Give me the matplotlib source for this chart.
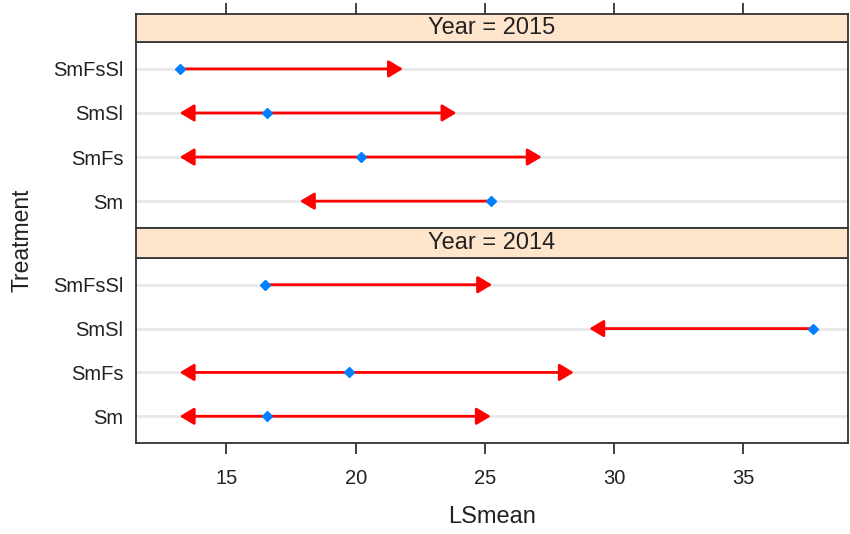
import matplotlib
matplotlib.use("Agg")
import matplotlib.pyplot as plt

plt.rcParams['font.family'] = ['Liberation Sans', 'DejaVu Sans']

treatments = ["Sm", "SmFs", "SmSl", "SmFsSl"]
years = ["2015", "2014"]

# LSmeans and comparison-arrow ends (None = no arrow on that side)
means = {
    "2015": [25.23, 20.20, 16.56, 13.19],
    "2014": [16.56, 19.73, 37.68, 16.51],
}
lower = {
    "2015": [17.84, 13.19, 13.19, None],
    "2014": [13.19, 13.19, 29.04, None],
}
upper = {
    "2015": [None, 27.20, 23.90, 21.83],
    "2014": [25.23, 28.44, None, 25.28],
}

xticks = [15, 20, 25, 30, 35]
xlim = (11.5, 39.05)

W, H = 850, 534
fig = plt.figure(figsize=(W / 100, H / 100), dpi=100)

left = 136 / W
width = 712 / W
# (strip top, strip bottom, panel bottom) in pixels from the top
layout = {"2015": (14, 42, 228), "2014": (228, 258, 443)}

edge = "#333333"
txt = "#222222"

for year in years:
    s_top, s_bot, p_bot = layout[year]
    ax = fig.add_axes([left, 1 - p_bot / H, width, (p_bot - s_bot) / H])
    st = fig.add_axes([left, 1 - s_bot / H, width, (s_bot - s_top) / H])

    ypos = list(range(1, len(treatments) + 1))
    for y in ypos:
        ax.axhline(y, color="#e8e8e8", lw=2, zorder=1)

    for y, m, lo, hi in zip(ypos, means[year], lower[year], upper[year]):
        for end in (lo, hi):
            if end is None:
                continue
            ax.annotate("", xy=(end, y), xytext=(m, y),
                        arrowprops=dict(arrowstyle="-|>,head_length=0.45,head_width=0.27",
                                        color="#ff0000", lw=2, shrinkA=0, shrinkB=0,
                                        mutation_scale=19),
                        zorder=2)
    ax.plot(means[year], ypos, linestyle="none", marker="D", markersize=5.5,
            color="#0080ff", zorder=3)

    ax.set_xlim(*xlim)
    ax.set_ylim(0.39, 4.61)
    ax.set_yticks(ypos)
    ax.set_yticklabels(treatments, fontsize=14.5, color=txt)
    ax.tick_params(axis="y", length=0, pad=9)
    ax.set_xticks(xticks)
    for sp in ax.spines.values():
        sp.set_color(edge)
        sp.set_linewidth(1.3)

    st.set_facecolor("#ffe5cc")
    st.set_xlim(*xlim)
    st.set_yticks([])
    st.text(0.5, 0.5, "Year = " + year, transform=st.transAxes,
            ha="center", va="center", fontsize=17, color=txt)
    for sp in st.spines.values():
        sp.set_color(edge)
        sp.set_linewidth(1.3)

    if year == "2015":
        ax.tick_params(axis="x", bottom=False, labelbottom=False)
        st.set_xticks(xticks)
        st.tick_params(axis="x", bottom=False, labelbottom=False, top=True,
                       labeltop=False, direction="out", length=8, width=1.3,
                       color=edge)
    else:
        st.set_xticks([])
        ax.tick_params(axis="x", direction="out", length=8, width=1.3,
                       color=edge, labelsize=14.5, labelcolor=txt, pad=11)

fig.text(492 / W, 1 - 517 / H, "LSmean", ha="center", va="center",
         fontsize=17, color=txt)
fig.text(22 / W, 1 - 240 / H, "Treatment", ha="center", va="center",
         rotation=90, fontsize=16.5, color=txt)

fig.savefig("out.png", dpi=100)
